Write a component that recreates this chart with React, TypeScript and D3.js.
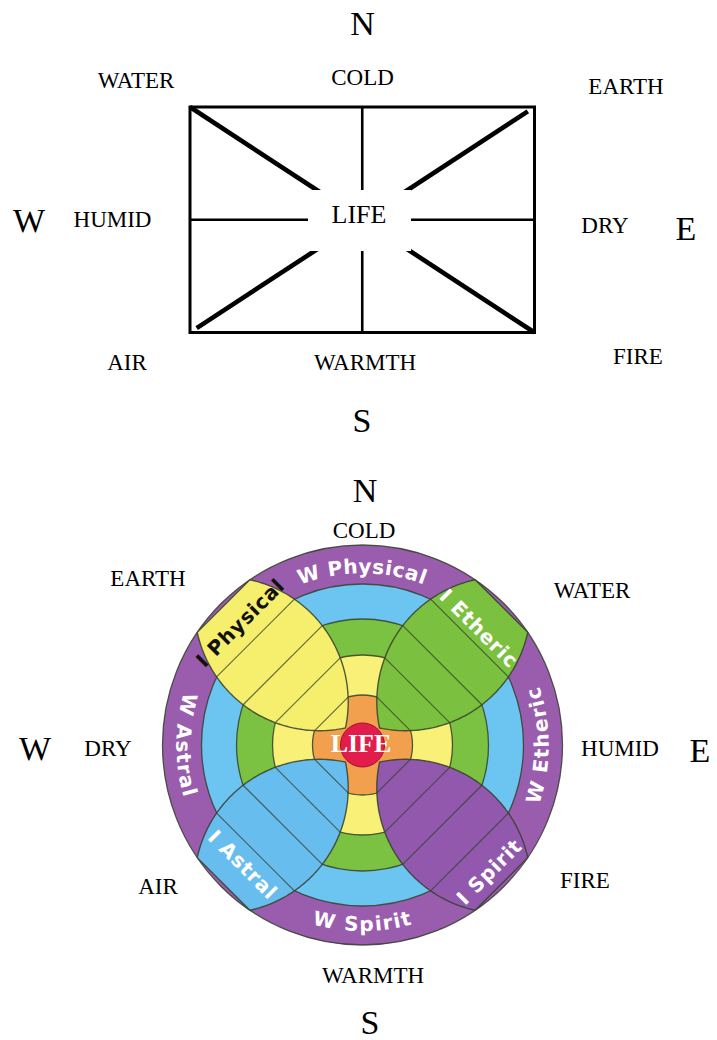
import React from "react";
import * as d3 from "d3";

// ---------- data ----------
const topCompass = ["N", "E", "S", "W"];
const topQualities = ["COLD", "DRY", "WARMTH", "HUMID"];
const topElements = ["WATER", "EARTH", "FIRE", "AIR"];
const centerLabel = "LIFE";

const bottomCompass = ["N", "E", "S", "W"];
const bottomQualities = ["COLD", "HUMID", "WARMTH", "DRY"];
const bottomElements = ["EARTH", "WATER", "FIRE", "AIR"];

const ringRadii = [200, 161, 126, 90, 50];
const coreRadius = 22;
const worldLabels = ["W Physical", "W Etheric", "W Spirit", "W Astral"];
const worldAngles = [270, 0, 90, 180];
const petalLabels = ["I Physical", "I Etheric", "I Spirit", "I Astral"];
const petalAngles = [225, 315, 45, 135];
const lensOffset = 129;
const lensSpread = 68;
const lensRadius = 125;

// ---------- layout / style ----------
const W = 717;
const H = 1040;
const SERIF = "'Liberation Serif', 'Times New Roman', serif";
const SANS = "'DejaVu Sans', Verdana, sans-serif";

const topPos = {
  compass: [[362.5, 35], [686, 240], [362, 432], [29, 232]],
  qualities: [[362.5, 85], [605, 233], [365, 370], [112.5, 227]],
  elements: [[136, 88], [626, 94], [638, 364], [127, 370]],
};
const bottomPos = {
  compass: [[365, 502], [700, 762], [370, 1034], [35, 760]],
  qualities: [[364, 538], [620, 756], [373, 983], [108, 756]],
  elements: [[148, 586], [592, 598], [585, 888], [158, 894]],
};
const rect = { x0: 190, y0: 107, x1: 534.5, y1: 332.5 };
const gap = { x0: 308, x1: 411, y0: 190, y1: 251 };
const diagInsets = [0, 8, 0, 8]; // NW, NE, SE, SW

const cx = 362.5;
const cy = 745;
const ringColors = ["#9a5dae", "#6cc5f0", "#7cc242", "#f8f077", "#f2a04e"];
const coreColor = "#e21d4c";
const petalColors = ["#f6ee6d", "#7bc13f", "#9158ad", "#68bdef"];
const petalTextColors = ["#111111", "#ffffff", "#ffffff", "#ffffff"];
const petalTextOffsets = [173, 165, 179, 169];
const lineColor = "#35402a";

const rScale = d3.scaleLinear().domain([0, 200]).range([0, 200]);

// ---------- geometry helpers ----------
const lensHalf = (s: number) => {
  const q = lensRadius * lensRadius - (s - lensOffset) * (s - lensOffset);
  return q > 0 ? Math.max(0, Math.sqrt(q) - lensSpread) : 0;
};
const tipS = lensOffset - Math.sqrt(lensRadius * lensRadius - lensSpread * lensSpread);
const endS = lensOffset + Math.sqrt(lensRadius * lensRadius - lensSpread * lensSpread);
const sAtRadius = (r: number) => {
  let lo = tipS;
  let hi = endS;
  for (let i = 0; i < 60; i++) {
    const m = (lo + hi) / 2;
    const d = Math.hypot(m, lensHalf(m));
    if (d < r) lo = m;
    else hi = m;
  }
  return (lo + hi) / 2;
};
const toXY = (deg: number, s: number, p: number): [number, number] => {
  const t = (deg * Math.PI) / 180;
  const ux = Math.cos(t), uy = Math.sin(t);
  const vx = -Math.sin(t), vy = Math.cos(t);
  return [cx + rScale(s) * ux + rScale(p) * vx, cy + rScale(s) * uy + rScale(p) * vy];
};
const line = d3.line();

function petalPath(deg: number) {
  const sc = sAtRadius(ringRadii[0]);
  const N = 90;
  const pts: [number, number][] = [];
  for (let i = 0; i <= N; i++) {
    const s = tipS + ((sc - tipS) * i) / N;
    pts.push(toXY(deg, s, lensHalf(s)));
  }
  for (let i = N; i >= 0; i--) {
    const s = tipS + ((sc - tipS) * i) / N;
    pts.push(toXY(deg, s, -lensHalf(s)));
  }
  return (line(pts) as string) + "Z";
}

function arcPath(deg: number, r: number) {
  const top = Math.sin((deg * Math.PI) / 180) < -0.5;
  const a0 = top ? deg - 90 : deg + 90;
  const a1 = top ? deg + 90 : deg - 90;
  const p = (a: number) => [cx + rScale(r) * Math.cos((a * Math.PI) / 180), cy + rScale(r) * Math.sin((a * Math.PI) / 180)];
  const [x0, y0] = p(a0);
  const [x1, y1] = p(a1);
  return `M${x0},${y0} A${rScale(r)},${rScale(r)} 0 0 ${top ? 1 : 0} ${x1},${y1}`;
}

function TopDiagram() {
  const mx = (rect.x0 + rect.x1) / 2;
  const my = (rect.y0 + rect.y1) / 2;
  const corners: [number, number][] = [
    [rect.x0, rect.y0],
    [rect.x1, rect.y0],
    [rect.x1, rect.y1],
    [rect.x0, rect.y1],
  ];
  const opp = [2, 3, 0, 1];
  return (
    <g>
      <line x1={mx} y1={rect.y0} x2={mx} y2={rect.y1} stroke="#000" strokeWidth={2.6} />
      <line x1={rect.x0} y1={my} x2={rect.x1} y2={my} stroke="#000" strokeWidth={2.6} />
      {corners.map((c, i) => {
        const o = corners[opp[i]];
        const len = Math.hypot(o[0] - c[0], o[1] - c[1]);
        const ux = (o[0] - c[0]) / len, uy = (o[1] - c[1]) / len;
        const sx = c[0] + ux * diagInsets[i];
        const sy = c[1] + uy * diagInsets[i];
        return <line key={i} x1={sx} y1={sy} x2={mx} y2={my} stroke="#000" strokeWidth={4.6} />;
      })}
      <rect x={gap.x0} y={gap.y0} width={gap.x1 - gap.x0} height={gap.y1 - gap.y0} fill="#fff" />
      <rect x={rect.x0} y={rect.y0} width={rect.x1 - rect.x0} height={rect.y1 - rect.y0} fill="none" stroke="#000" strokeWidth={3} />
      <text x={359} y={223} textAnchor="middle" fontFamily={SERIF} fontSize={26}>{centerLabel}</text>
      {topCompass.map((t, i) => (
        <text key={"c" + i} x={topPos.compass[i][0]} y={topPos.compass[i][1]} textAnchor="middle" fontFamily={SERIF} fontSize={34}>{t}</text>
      ))}
      {topQualities.map((t, i) => (
        <text key={"q" + i} x={topPos.qualities[i][0]} y={topPos.qualities[i][1]} textAnchor="middle" fontFamily={SERIF} fontSize={23}>{t}</text>
      ))}
      {topElements.map((t, i) => (
        <text key={"e" + i} x={topPos.elements[i][0]} y={topPos.elements[i][1]} textAnchor="middle" fontFamily={SERIF} fontSize={23}>{t}</text>
      ))}
    </g>
  );
}

function BottomDiagram() {
  const hatchRadii = ringRadii.slice(1);
  return (
    <g>
      {ringRadii.map((r, i) => (
        <circle key={"r" + i} cx={cx} cy={cy} r={rScale(r)} fill={ringColors[i]} stroke={lineColor} strokeWidth={1.3} strokeOpacity={0.85} />
      ))}
      {petalAngles.map((deg, i) => (
        <g key={"p" + i}>
          <path d={petalPath(deg)} fill={petalColors[i]} stroke={lineColor} strokeWidth={1.4} strokeOpacity={0.85} />
          {hatchRadii.map((r, j) => {
            const s = sAtRadius(r);
            const hw = lensHalf(s);
            const a = toXY(deg, s, hw);
            const b = toXY(deg, s, -hw);
            return <line key={j} x1={a[0]} y1={a[1]} x2={b[0]} y2={b[1]} stroke={lineColor} strokeWidth={1.2} strokeOpacity={0.75} />;
          })}
        </g>
      ))}
      <circle cx={cx} cy={cy} r={rScale(coreRadius)} fill={coreColor} stroke="#a0102e" strokeWidth={1} />
      <text x={361} y={752} textAnchor="middle" fontFamily={SERIF} fontWeight="bold" fontSize={26} fill="#fff">{centerLabel}</text>
      <defs>
        {worldAngles.map((deg, i) => (
          <path key={i} id={"warc" + i} d={arcPath(deg, 179)} fill="none" />
        ))}
      </defs>
      {worldLabels.map((t, i) => (
        <text key={"w" + i} fontFamily={SANS} fontWeight="bold" fontSize={20} letterSpacing={1} fill="#fff" dy="0.36em">
          <textPath href={"#warc" + i} startOffset="50%" textAnchor="middle">{t}</textPath>
        </text>
      ))}
      {petalLabels.map((t, i) => {
        const deg = petalAngles[i];
        const [x, y] = toXY(deg, petalTextOffsets[i], 0);
        let rot = deg + 90;
        while (rot > 90) rot -= 180;
        while (rot <= -90) rot += 180;
        return (
          <text key={"pl" + i} x={x} y={y} dy="0.36em" transform={`rotate(${rot},${x},${y})`} textAnchor="middle" fontFamily={SANS} fontWeight="bold" fontSize={20} letterSpacing={0.8} fill={petalTextColors[i]}>{t}</text>
        );
      })}
      {bottomCompass.map((t, i) => (
        <text key={"c" + i} x={bottomPos.compass[i][0]} y={bottomPos.compass[i][1]} textAnchor="middle" fontFamily={SERIF} fontSize={34}>{t}</text>
      ))}
      {bottomQualities.map((t, i) => (
        <text key={"q" + i} x={bottomPos.qualities[i][0]} y={bottomPos.qualities[i][1]} textAnchor="middle" fontFamily={SERIF} fontSize={23}>{t}</text>
      ))}
      {bottomElements.map((t, i) => (
        <text key={"e" + i} x={bottomPos.elements[i][0]} y={bottomPos.elements[i][1]} textAnchor="middle" fontFamily={SERIF} fontSize={23}>{t}</text>
      ))}
    </g>
  );
}

export default function App() {
  return (
    <svg width={W} height={H} viewBox={`0 0 ${W} ${H}`} style={{ position: "absolute", left: 0, top: 0, background: "#fff" }}>
      <rect x={0} y={0} width={W} height={H} fill="#fff" />
      <TopDiagram />
      <BottomDiagram />
    </svg>
  );
}
